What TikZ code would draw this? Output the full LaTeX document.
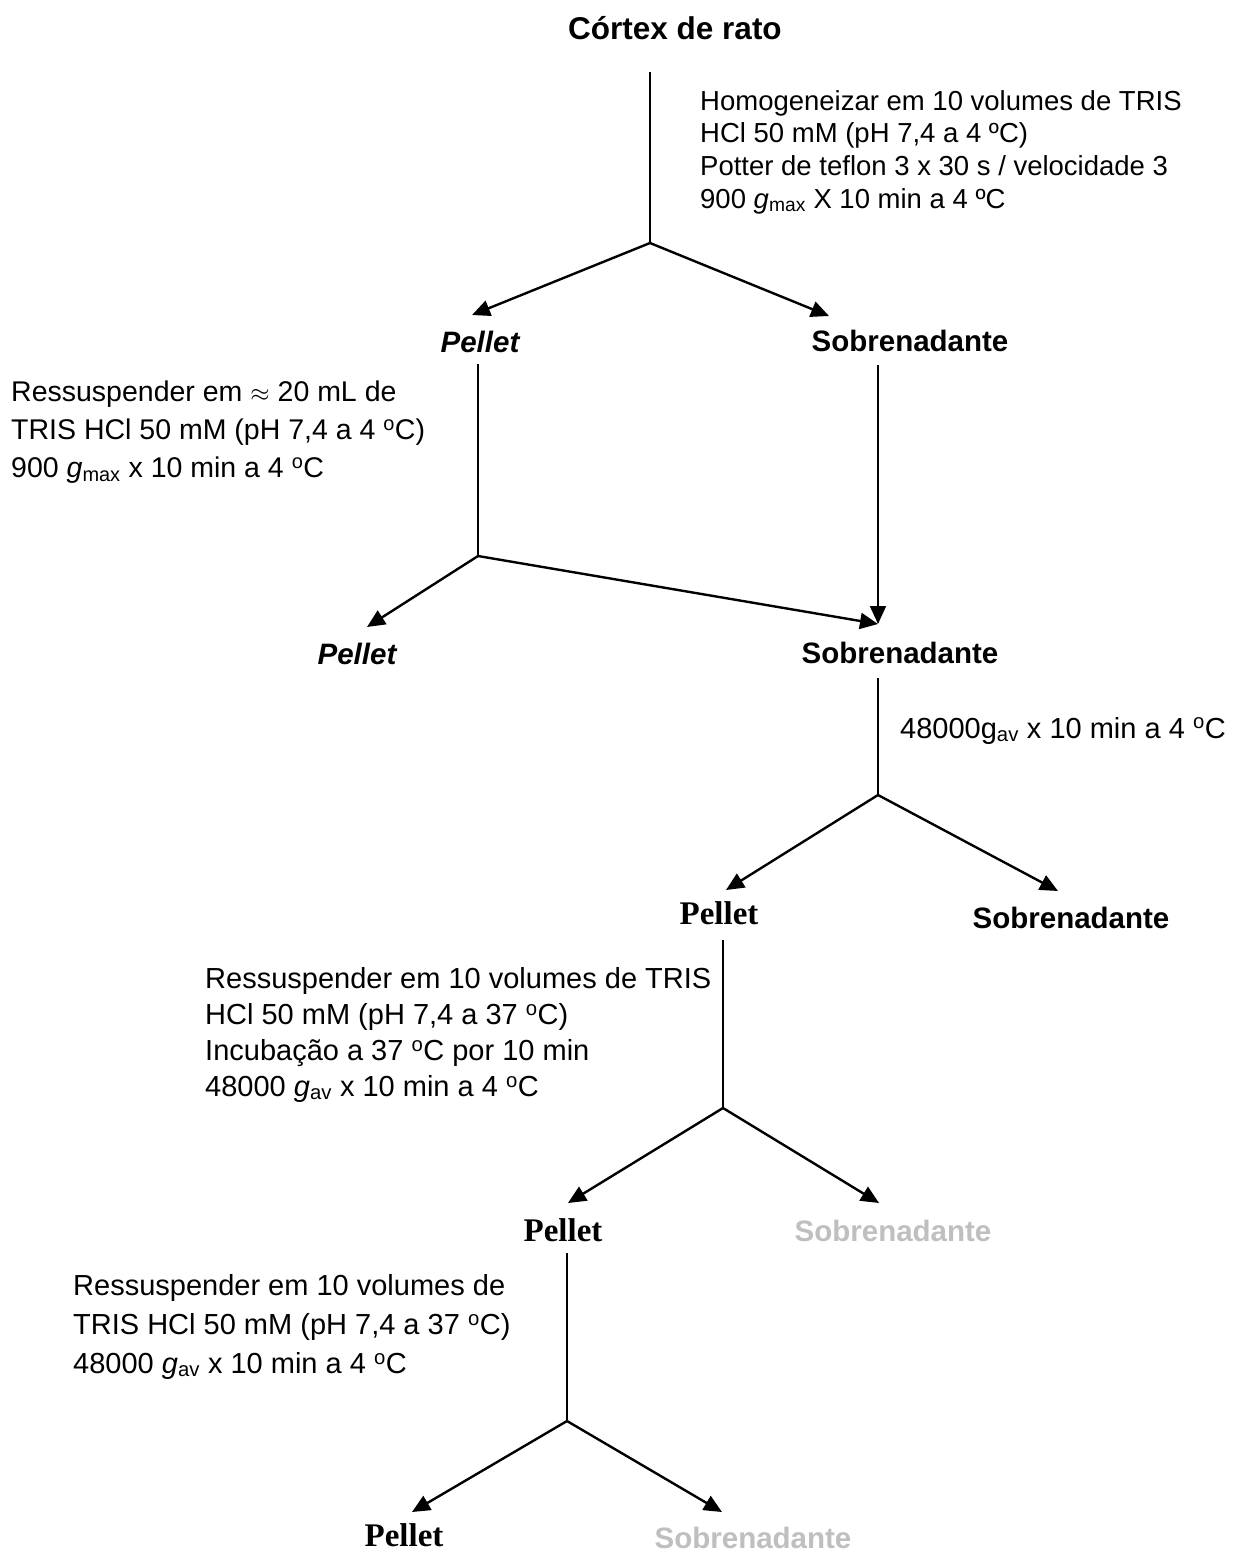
\documentclass[tikz,border=0pt]{standalone}
\usepackage{fontspec}
\setmainfont{Liberation Sans}
\newfontfamily\serifbold{Liberation Serif}
\usetikzlibrary{arrows.meta}
\definecolor{palegray}{RGB}{191,191,191}
\tikzset{
  head/.style={inner sep=0, anchor=base, font=\bfseries\fontsize{29.5}{35}\selectfont},
  headit/.style={inner sep=0, anchor=base, font=\bfseries\itshape\fontsize{29.5}{35}\selectfont},
  headserif/.style={inner sep=0, anchor=base, font=\serifbold\bfseries\fontsize{33}{38}\selectfont},
  faded/.style={text=palegray},
  blk/.style={inner sep=0, anchor=north west, align=left},
  stem/.style={line width=1.8pt},
  arr/.style={line width=2.4pt, -{Triangle[length=18pt,width=16pt]}}
}
\begin{document}
\begin{tikzpicture}[x=1pt,y=-1pt]
\path[fill=white,use as bounding box] (0,0) rectangle (1232,1553);

% headings
\node[head, font=\bfseries\fontsize{31.5}{36}\selectfont] (cortex) at (675,39) {Córtex de rato};
\node[headit] (pel1) at (480,352) {Pellet};
\node[head] (sob1) at (910,351) {Sobrenadante};
\node[headit] (pel2) at (357,664) {Pellet};
\node[head] (sob2) at (900,663) {Sobrenadante};
\node[headserif] (pel3) at (719,924) {Pellet};
\node[head] (sob3) at (1071,928) {Sobrenadante};
\node[headserif] (pel4) at (563,1241) {Pellet};
\node[head, faded] (sob4) at (893,1241) {Sobrenadante};
\node[headserif] (pel5) at (404,1546) {Pellet};
\node[head, faded] (sob5) at (753,1548) {Sobrenadante};

% procedure texts
\node[blk, font=\fontsize{27.5}{32.7}\selectfont] (t1) at (700,90)
  {Homogeneizar em 10 volumes de TRIS\\
   HCl 50 mM (pH 7,4 a 4 ºC)\\
   Potter de teflon 3 x 30 s / velocidade 3\\
   900 \textit{g}\textsubscript{max} X 10 min a 4 ºC};
\node[blk, font=\fontsize{28.5}{38}\selectfont] (t2) at (11,381)
  {Ressuspender em $\approx$ 20 mL de\\
   TRIS HCl 50 mM (pH 7,4 a 4 \textsuperscript{o}C)\\
   900 \textit{g}\textsubscript{max} x 10 min a 4 \textsuperscript{o}C};
\node[inner sep=0, anchor=base west, font=\fontsize{29}{35}\selectfont] (t3) at (900,738)
  {48000g\textsubscript{av} x 10 min a 4 \textsuperscript{o}C};
\node[blk, font=\fontsize{29}{36}\selectfont] (t4) at (205,967)
  {Ressuspender em 10 volumes de TRIS\\
   HCl 50 mM (pH 7,4 a 37 \textsuperscript{o}C)\\
   Incubação a 37 \textsuperscript{o}C por 10 min\\
   48000 \textit{g}\textsubscript{av} x 10 min a 4 \textsuperscript{o}C};
\node[blk, font=\fontsize{29}{39}\selectfont] (t5) at (73,1274)
  {Ressuspender em 10 volumes de\\
   TRIS HCl 50 mM (pH 7,4 a 37 \textsuperscript{o}C)\\
   48000 \textit{g}\textsubscript{av} x 10 min a 4 \textsuperscript{o}C};

% connector points
\coordinate (c1top) at (650,72);
\coordinate (b1) at (650,243);
\coordinate (a1L) at (472,315);
\coordinate (a1R) at (829,316);
\coordinate (p1bot) at (478,364);
\coordinate (b2) at (478,556);
\coordinate (s1bot) at (878,365);
\coordinate (a2L) at (367,627);
\coordinate (a2R) at (878,624);
\coordinate (s2bot) at (878,678);
\coordinate (b3) at (878,795);
\coordinate (a3L) at (726,890);
\coordinate (a3R) at (1058,891);
\coordinate (p3bot) at (723,940);
\coordinate (b4) at (723,1108);
\coordinate (a4L) at (568,1203);
\coordinate (a4R) at (879,1203);
\coordinate (p4bot) at (567,1253);
\coordinate (b5) at (567,1421);
\coordinate (a5L) at (412,1512);
\coordinate (a5R) at (722,1512);

% connectors
\draw[stem] (c1top) -- (b1);
\draw[arr] (b1) -- (a1L);
\draw[arr] (b1) -- (a1R);
\draw[stem] (p1bot) -- (b2);
\draw[arr] (b2) -- (a2L);
\draw[arr] (b2) -- (a2R);
\draw[arr, line width=1.8pt] (s1bot) -- (a2R);
\draw[stem] (s2bot) -- (b3);
\draw[arr] (b3) -- (a3L);
\draw[arr] (b3) -- (a3R);
\draw[stem] (p3bot) -- (b4);
\draw[arr] (b4) -- (a4L);
\draw[arr] (b4) -- (a4R);
\draw[stem] (p4bot) -- (b5);
\draw[arr] (b5) -- (a5L);
\draw[arr] (b5) -- (a5R);
\end{tikzpicture}
\end{document}
